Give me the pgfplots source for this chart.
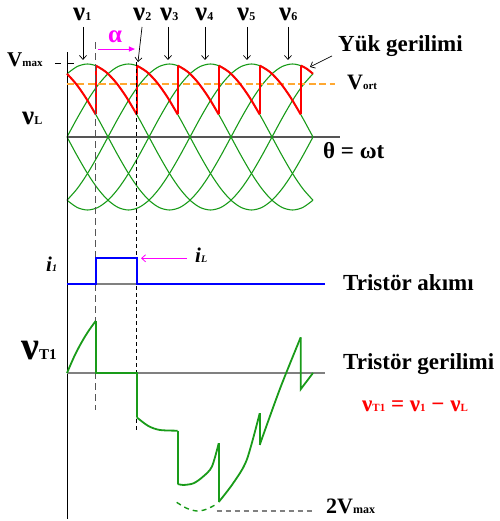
\documentclass[border=0pt]{standalone}
\usepackage{pgfplots}
\pgfplotsset{compat=1.18}
\usepackage{pgfplotstable}
\usepackage{fontspec}
\setmainfont{Liberation Serif}
\usetikzlibrary{arrows.meta}

\definecolor{phgreen}{RGB}{25,155,25}
\definecolor{ldred}{RGB}{255,0,0}
\definecolor{vort}{RGB}{255,168,50}
\definecolor{mag}{RGB}{255,0,255}
\definecolor{axgray}{RGB}{85,85,85}
\definecolor{lgray}{RGB}{128,128,128}
\newcommand\fs[1]{\fontsize{#1}{#1}\selectfont}

% six phase voltages, v_k = Vmax cos(theta - 30 - 60(k-1)), per unit
\pgfplotstableread{
theta v1 v2 v3 v4 v5 v6
0 0.866 0 -0.866 -0.866 0 0.866
15 0.966 0.259 -0.707 -0.966 -0.259 0.707
30 1 0.5 -0.5 -1 -0.5 0.5
45 0.966 0.707 -0.259 -0.966 -0.707 0.259
60 0.866 0.866 0 -0.866 -0.866 0
75 0.707 0.966 0.259 -0.707 -0.966 -0.259
90 0.5 1 0.5 -0.5 -1 -0.5
105 0.259 0.966 0.707 -0.259 -0.966 -0.707
120 0 0.866 0.866 0 -0.866 -0.866
135 -0.259 0.707 0.966 0.259 -0.707 -0.966
150 -0.5 0.5 1 0.5 -0.5 -1
165 -0.707 0.259 0.966 0.707 -0.259 -0.966
180 -0.866 0 0.866 0.866 0 -0.866
195 -0.966 -0.259 0.707 0.966 0.259 -0.707
210 -1 -0.5 0.5 1 0.5 -0.5
225 -0.966 -0.707 0.259 0.966 0.707 -0.259
240 -0.866 -0.866 0 0.866 0.866 0
255 -0.707 -0.966 -0.259 0.707 0.966 0.259
270 -0.5 -1 -0.5 0.5 1 0.5
285 -0.259 -0.966 -0.707 0.259 0.966 0.707
300 0 -0.866 -0.866 0 0.866 0.866
315 0.259 -0.707 -0.966 -0.259 0.707 0.966
330 0.5 -0.5 -1 -0.5 0.5 1
345 0.707 -0.259 -0.966 -0.707 0.259 0.966
360 0.866 0 -0.866 -0.866 0 0.866
}\phases

\begin{document}
\begin{tikzpicture}
\useasboundingbox (0pt,0pt) rectangle (499pt,521pt);

% ---------- supply and load voltages ----------
\begin{axis}[at={(0pt,303.7pt)}, anchor=south west,
  x=0.6833pt, y=73pt, xmin=-98.05, xmax=632.2, ymin=-1.1, ymax=1.9,
  hide axis, clip=false]
\addplot[axgray, line width=1.6pt] coordinates {(0,0) (399.5,0)};
\foreach \k in {1,...,6}{
  \addplot[phgreen, line width=1.1pt, smooth] table[x=theta, y=v\k] {\phases};
}
\addplot[black, line width=0.9pt] coordinates {(0,1.164) (0,-5.233)};
\addplot[black, line width=0.7pt] coordinates {(0,1.014) (10,1.014)};
\addplot[black, line width=0.7pt] coordinates {(-17.6,1.014) (-9,1.014)};
% average output voltage
\addplot[vort, line width=1.6pt, dash pattern=on 7pt off 3.5pt] coordinates {(0,0.726) (392,0.726)};
% load voltage, alpha = 42 deg
\addplot[ldred, line width=2pt, smooth] coordinates {(0,0.866) (14,0.719) (28,0.530) (42,0.309)};
\addplot[ldred, line width=2pt, smooth] coordinates {(42,0.978) (57,0.891) (72,0.743) (87,0.545) (102,0.309)};
\addplot[ldred, line width=2pt, smooth] coordinates {(102,0.978) (117,0.891) (132,0.743) (147,0.545) (162,0.309)};
\addplot[ldred, line width=2pt, smooth] coordinates {(162,0.978) (177,0.891) (192,0.743) (207,0.545) (222,0.309)};
\addplot[ldred, line width=2pt, smooth] coordinates {(222,0.978) (237,0.891) (252,0.743) (267,0.545) (282,0.309)};
\addplot[ldred, line width=2pt, smooth] coordinates {(282,0.978) (297,0.891) (312,0.743) (327,0.545) (342,0.309)};
\addplot[ldred, line width=2pt, smooth] coordinates {(342,0.978) (351,0.934) (360,0.866)};
\addplot[ldred, line width=2pt, unbounded coords=jump] coordinates {
  (42,0.309) (42,0.978) (42,nan) (102,0.309) (102,0.978) (102,nan)
  (162,0.309) (162,0.978) (162,nan) (222,0.309) (222,0.978) (222,nan)
  (282,0.309) (282,0.978) (282,nan) (342,0.309) (342,0.978)};
% firing instants
\addplot[axgray, line width=1pt, dash pattern=on 7pt off 4pt] coordinates {(42,1.301) (42,-3.740)};
\addplot[black, line width=1pt, dash pattern=on 4pt off 3pt] coordinates {(102,1.027) (102,-4.014)};
% phase pointers
\draw[black, line width=0.7pt, -{Straight Barb[length=4pt,width=7pt]}] (axis cs:23.4,1.507) -- (axis cs:23.4,1.055);
\draw[black, line width=0.7pt, -{Straight Barb[length=4pt,width=7pt]}] (axis cs:109.8,1.507) -- (axis cs:103.9,1.027);
\draw[black, line width=0.7pt, -{Straight Barb[length=4pt,width=7pt]}] (axis cs:147.8,1.507) -- (axis cs:147.8,1.055);
\draw[black, line width=0.7pt, -{Straight Barb[length=4pt,width=7pt]}] (axis cs:202,1.507) -- (axis cs:202,1.055);
\draw[black, line width=0.7pt, -{Straight Barb[length=4pt,width=7pt]}] (axis cs:263.4,1.507) -- (axis cs:263.4,1.055);
\draw[black, line width=0.7pt, -{Straight Barb[length=4pt,width=7pt]}] (axis cs:323.4,1.507) -- (axis cs:323.4,1.055);
\draw[black, line width=0.7pt, -{Straight Barb[length=4pt,width=7pt]}] (axis cs:387.8,1.110) -- (axis cs:355.6,0.959);
\draw[mag, line width=1pt, -{Triangle[length=6pt,width=5pt]}] (axis cs:45.4,1.205) -- (axis cs:99.5,1.205);
\end{axis}

% ---------- thyristor current ----------
\begin{axis}[at={(0pt,210.7pt)}, anchor=south west,
  x=0.6833pt, y=26pt, xmin=-98.05, xmax=632.2, ymin=-1, ymax=1.5,
  hide axis, clip=false]
\addplot[lgray, line width=1.6pt] coordinates {(42,0) (102,0)};
\addplot[blue, line width=1.8pt] coordinates {(0,0) (42,0) (42,1) (102,1) (102,0) (377.6,0)};
\draw[mag, line width=0.8pt, -{Straight Barb[length=4pt,width=7pt]}] (axis cs:175.6,1) -- (axis cs:108.3,1);
\end{axis}

% ---------- thyristor voltage ----------
\begin{axis}[at={(0pt,3.1pt)}, anchor=south west,
  x=0.6833pt, y=69pt, xmin=-98.05, xmax=632.2, ymin=-2.1, ymax=2.5,
  hide axis, clip=false]
\addplot[lgray, line width=1.6pt] coordinates {(0,0) (377.6,0)};
\addplot[lgray, line width=1.2pt, dash pattern=on 5pt off 4pt] coordinates {(219,-2.0) (363,-2.0)};
\addplot[phgreen, line width=1.4pt, smooth, dash pattern=on 5pt off 4pt] coordinates {(160.5,-1.874) (175,-1.96) (190,-2.0) (204,-1.975) (219,-1.90)};
\addplot[phgreen, line width=1.8pt, smooth] coordinates {(0,0) (12,0.27) (24,0.49) (33,0.63) (42,0.754)};
\addplot[phgreen, line width=1.8pt] coordinates {(42,0.754) (42,0) (102,0) (102,-0.642)};
\addplot[phgreen, line width=1.8pt, smooth] coordinates {(102,-0.642) (119,-0.768) (136,-0.826) (162,-0.836)};
\addplot[phgreen, line width=1.8pt] coordinates {(162,-0.836) (162,-1.609)};
\addplot[phgreen, line width=1.8pt, smooth] coordinates {(162,-1.609) (170,-1.623) (185,-1.599) (199,-1.503) (212,-1.358) (222,-1.019)};
\addplot[phgreen, line width=1.8pt] coordinates {(222,-1.019) (222,-1.87)};
\addplot[phgreen, line width=1.8pt, smooth] coordinates {(222,-1.87) (243,-1.60) (263,-1.26) (282,-0.584)};
\addplot[phgreen, line width=1.8pt] coordinates {(282,-0.584) (282,-1.043)};
\addplot[phgreen, line width=1.8pt, smooth] coordinates {(282,-1.043) (312,-0.22) (342,0.517)};
\addplot[phgreen, line width=1.8pt] coordinates {(342,0.517) (342,-0.236) (360,0)};
\end{axis}

% ---------- labels ----------
\begin{scope}[every node/.style={anchor=base west, inner sep=0pt}]
\node at (73pt,500pt) {\fs{27}\bfseries ν\fs{12}1};
\node at (133pt,500pt) {\fs{27}\bfseries ν\fs{12}2};
\node at (160pt,500pt) {\fs{27}\bfseries ν\fs{12}3};
\node at (195pt,500pt) {\fs{27}\bfseries ν\fs{12}4};
\node at (237pt,500pt) {\fs{27}\bfseries ν\fs{12}5};
\node at (279pt,500pt) {\fs{27}\bfseries ν\fs{12}6};
\node at (7pt,454pt) {\fs{21}\bfseries V\fs{11}max};
\node at (22pt,396pt) {\fs{27}\bfseries ν\fs{12}L};
\node[text=mag] at (108pt,478pt) {\fs{25}\bfseries α};
\node at (338pt,469pt) {\fs{23}\bfseries Yük gerilimi};
\node at (347pt,431pt) {\fs{22}\bfseries V\fs{11}ort};
\node at (323pt,362pt) {\fs{23}\bfseries θ = ωt};
\node at (46pt,249pt) {\fs{21}\bfseries\itshape i\fs{10}1};
\node at (195pt,258pt) {\fs{21}\bfseries\itshape i\fs{10}L};
\node at (343pt,230pt) {\fs{23}\bfseries Tristör akımı};
\node at (21pt,161pt) {\fs{40}\bfseries ν\fs{15}T1};
\node at (343pt,151pt) {\fs{23}\bfseries Tristör gerilimi};
\node[text=ldred] at (362pt,109pt) {\fs{23}\bfseries ν\fs{11}T1\fs{23} = ν\fs{11}1\fs{23} − ν\fs{11}L};
\node at (326pt,8pt) {\fs{22}\bfseries 2V\fs{12}max};
\end{scope}
\end{tikzpicture}
\end{document}
